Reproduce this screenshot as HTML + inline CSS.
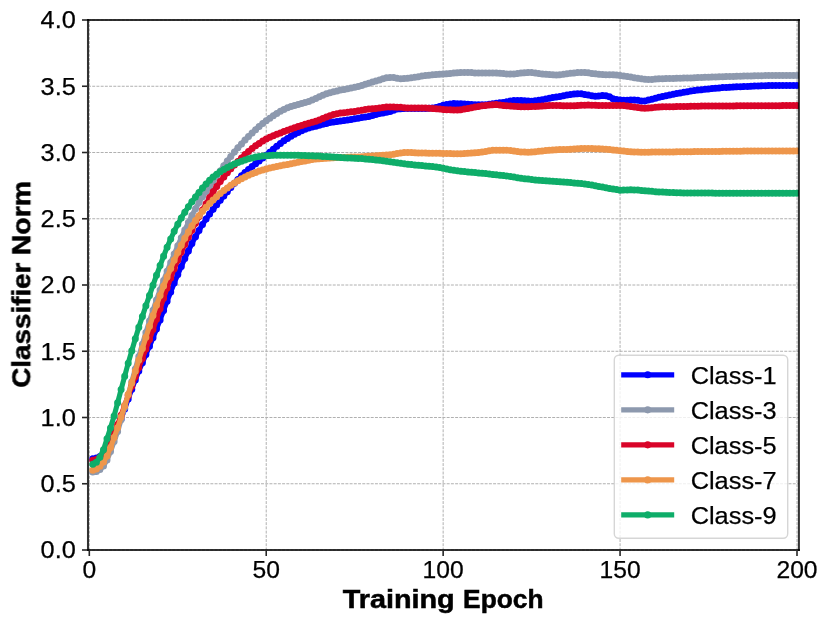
<!DOCTYPE html>
<html lang="en"><head><meta charset="utf-8"><title>Classifier Norm vs Training Epoch</title>
<style>html,body{margin:0;padding:0;background:#fff}body{width:830px;height:624px;overflow:hidden;font-family:"Liberation Sans",sans-serif}svg text{font-family:"Liberation Sans",sans-serif}</style></head>
<body>
<svg width="830" height="624" viewBox="0 0 830 624" style="display:block;will-change:transform">
<defs><filter id="nf" x="0" y="0" width="830" height="624" filterUnits="userSpaceOnUse" color-interpolation-filters="sRGB"><feOffset dx="0" dy="0"/></filter></defs>
<rect width="830" height="624" fill="#fff"/>
<g stroke="#b0b0b0" stroke-width="1.0" stroke-dasharray="2.95 1.27" fill="none">
<path d="M89.30 20V550"/>
<path d="M266.23 20V550"/>
<path d="M443.15 20V550"/>
<path d="M620.07 20V550"/>
<path d="M797.00 20V550"/>
<path d="M88 550.00H798.9"/>
<path d="M88 483.75H798.9"/>
<path d="M88 417.50H798.9"/>
<path d="M88 351.25H798.9"/>
<path d="M88 285.00H798.9"/>
<path d="M88 218.75H798.9"/>
<path d="M88 152.50H798.9"/>
<path d="M88 86.25H798.9"/>
<path d="M88 20.00H798.9"/>
</g>
<clipPath id="c"><rect x="88" y="20" width="710.9" height="530"/></clipPath>
<g clip-path="url(#c)" fill="none" stroke-linejoin="round">
<path d="M92.8 458.7 L96.4 457.9 L99.9 456.6 L103.5 453.8 L107.0 450.0 L110.5 444.6 L114.1 436.9 L117.6 428.2 L121.1 418.9 L124.7 409.0 L128.2 399.0 L131.8 389.2 L135.3 379.9 L138.8 371.1 L142.4 362.7 L145.9 354.5 L149.5 346.3 L153.0 337.8 L156.5 329.0 L160.1 319.9 L163.6 310.6 L167.1 301.2 L170.7 292.0 L174.2 283.1 L177.8 274.6 L181.3 266.4 L184.8 258.5 L188.4 250.9 L191.9 243.6 L195.5 236.8 L199.0 230.4 L202.5 224.5 L206.1 219.1 L209.6 214.0 L213.1 209.3 L216.7 204.7 L220.2 200.3 L223.8 196.0 L227.3 191.7 L230.8 187.4 L234.4 183.3 L237.9 179.4 L241.5 175.8 L245.0 172.5 L248.5 169.5 L252.1 166.6 L255.6 163.8 L259.1 160.9 L262.7 158.1 L266.2 155.2 L269.8 152.2 L273.3 149.2 L276.8 146.3 L280.4 143.4 L283.9 140.8 L287.5 138.4 L291.0 136.2 L294.5 134.2 L298.1 132.4 L301.6 130.7 L305.1 129.2 L308.7 128.0 L312.2 127.1 L315.8 126.3 L319.3 125.3 L322.8 124.3 L326.4 123.4 L329.9 122.6 L333.5 122.0 L337.0 121.5 L340.5 121.0 L344.1 120.5 L347.6 120.0 L351.1 119.4 L354.7 118.8 L358.2 118.2 L361.8 117.6 L365.3 117.1 L368.8 116.4 L372.4 115.5 L375.9 114.5 L379.5 113.6 L383.0 112.9 L386.5 112.2 L390.1 111.4 L393.6 110.2 L397.1 109.1 L400.7 108.7 L404.2 108.6 L407.8 108.5 L411.3 108.5 L414.8 108.5 L418.4 108.5 L421.9 108.5 L425.5 108.4 L429.0 108.2 L432.5 107.9 L436.1 107.5 L439.6 106.5 L443.2 105.2 L446.7 104.5 L450.2 103.9 L453.8 103.6 L457.3 103.7 L460.8 103.8 L464.4 104.0 L467.9 104.3 L471.5 104.6 L475.0 104.7 L478.5 104.8 L482.1 104.8 L485.6 104.8 L489.2 104.3 L492.7 103.7 L496.2 103.2 L499.8 102.8 L503.3 102.4 L506.8 101.8 L510.4 101.1 L513.9 100.6 L517.5 100.5 L521.0 100.5 L524.5 100.7 L528.1 101.1 L531.6 101.2 L535.2 100.8 L538.7 100.2 L542.2 99.7 L545.8 98.9 L549.3 98.2 L552.8 97.6 L556.4 97.0 L559.9 96.4 L563.5 95.8 L567.0 95.1 L570.5 94.6 L574.1 94.1 L577.6 93.7 L581.2 93.8 L584.7 94.4 L588.2 95.0 L591.8 95.8 L595.3 96.3 L598.8 95.9 L602.4 95.4 L605.9 95.8 L609.5 96.8 L613.0 98.7 L616.5 99.6 L620.1 100.0 L623.6 100.2 L627.2 100.2 L630.7 100.1 L634.2 100.0 L637.8 100.3 L641.3 100.9 L644.8 100.9 L648.4 100.1 L651.9 99.2 L655.5 98.3 L659.0 97.3 L662.5 96.5 L666.1 95.7 L669.6 95.0 L673.2 94.3 L676.7 93.6 L680.2 92.9 L683.8 92.3 L687.3 91.7 L690.8 91.1 L694.4 90.6 L697.9 90.1 L701.5 89.7 L705.0 89.3 L708.5 88.9 L712.1 88.6 L715.6 88.2 L719.2 87.9 L722.7 87.6 L726.2 87.4 L729.8 87.2 L733.3 87.0 L736.8 86.8 L740.4 86.7 L743.9 86.5 L747.5 86.4 L751.0 86.2 L754.5 86.0 L758.1 85.9 L761.6 85.8 L765.2 85.7 L768.7 85.6 L772.2 85.6 L775.8 85.5 L779.3 85.5 L782.8 85.5 L786.4 85.5 L789.9 85.5 L793.5 85.5 L797.0 85.5" stroke="#0000ff" stroke-width="5.1" stroke-linecap="round"/>
<path d="M92.8 458.7h0M96.4 457.9h0M99.9 456.6h0M103.5 453.8h0M107.0 450.0h0M110.5 444.6h0M114.1 436.9h0M117.6 428.2h0M121.1 418.9h0M124.7 409.0h0M128.2 399.0h0M131.8 389.2h0M135.3 379.9h0M138.8 371.1h0M142.4 362.7h0M145.9 354.5h0M149.5 346.3h0M153.0 337.8h0M156.5 329.0h0M160.1 319.9h0M163.6 310.6h0M167.1 301.2h0M170.7 292.0h0M174.2 283.1h0M177.8 274.6h0M181.3 266.4h0M184.8 258.5h0M188.4 250.9h0M191.9 243.6h0M195.5 236.8h0M199.0 230.4h0M202.5 224.5h0M206.1 219.1h0M209.6 214.0h0M213.1 209.3h0M216.7 204.7h0M220.2 200.3h0M223.8 196.0h0M227.3 191.7h0M230.8 187.4h0M234.4 183.3h0M237.9 179.4h0M241.5 175.8h0M245.0 172.5h0M248.5 169.5h0M252.1 166.6h0M255.6 163.8h0M259.1 160.9h0M262.7 158.1h0M266.2 155.2h0M269.8 152.2h0M273.3 149.2h0M276.8 146.3h0M280.4 143.4h0M283.9 140.8h0M287.5 138.4h0M291.0 136.2h0M294.5 134.2h0M298.1 132.4h0M301.6 130.7h0M305.1 129.2h0M308.7 128.0h0M312.2 127.1h0M315.8 126.3h0M319.3 125.3h0M322.8 124.3h0M326.4 123.4h0M329.9 122.6h0M333.5 122.0h0M337.0 121.5h0M340.5 121.0h0M344.1 120.5h0M347.6 120.0h0M351.1 119.4h0M354.7 118.8h0M358.2 118.2h0M361.8 117.6h0M365.3 117.1h0M368.8 116.4h0M372.4 115.5h0M375.9 114.5h0M379.5 113.6h0M383.0 112.9h0M386.5 112.2h0M390.1 111.4h0M393.6 110.2h0M397.1 109.1h0M400.7 108.7h0M404.2 108.6h0M407.8 108.5h0M411.3 108.5h0M414.8 108.5h0M418.4 108.5h0M421.9 108.5h0M425.5 108.4h0M429.0 108.2h0M432.5 107.9h0M436.1 107.5h0M439.6 106.5h0M443.2 105.2h0M446.7 104.5h0M450.2 103.9h0M453.8 103.6h0M457.3 103.7h0M460.8 103.8h0M464.4 104.0h0M467.9 104.3h0M471.5 104.6h0M475.0 104.7h0M478.5 104.8h0M482.1 104.8h0M485.6 104.8h0M489.2 104.3h0M492.7 103.7h0M496.2 103.2h0M499.8 102.8h0M503.3 102.4h0M506.8 101.8h0M510.4 101.1h0M513.9 100.6h0M517.5 100.5h0M521.0 100.5h0M524.5 100.7h0M528.1 101.1h0M531.6 101.2h0M535.2 100.8h0M538.7 100.2h0M542.2 99.7h0M545.8 98.9h0M549.3 98.2h0M552.8 97.6h0M556.4 97.0h0M559.9 96.4h0M563.5 95.8h0M567.0 95.1h0M570.5 94.6h0M574.1 94.1h0M577.6 93.7h0M581.2 93.8h0M584.7 94.4h0M588.2 95.0h0M591.8 95.8h0M595.3 96.3h0M598.8 95.9h0M602.4 95.4h0M605.9 95.8h0M609.5 96.8h0M613.0 98.7h0M616.5 99.6h0M620.1 100.0h0M623.6 100.2h0M627.2 100.2h0M630.7 100.1h0M634.2 100.0h0M637.8 100.3h0M641.3 100.9h0M644.8 100.9h0M648.4 100.1h0M651.9 99.2h0M655.5 98.3h0M659.0 97.3h0M662.5 96.5h0M666.1 95.7h0M669.6 95.0h0M673.2 94.3h0M676.7 93.6h0M680.2 92.9h0M683.8 92.3h0M687.3 91.7h0M690.8 91.1h0M694.4 90.6h0M697.9 90.1h0M701.5 89.7h0M705.0 89.3h0M708.5 88.9h0M712.1 88.6h0M715.6 88.2h0M719.2 87.9h0M722.7 87.6h0M726.2 87.4h0M729.8 87.2h0M733.3 87.0h0M736.8 86.8h0M740.4 86.7h0M743.9 86.5h0M747.5 86.4h0M751.0 86.2h0M754.5 86.0h0M758.1 85.9h0M761.6 85.8h0M765.2 85.7h0M768.7 85.6h0M772.2 85.6h0M775.8 85.5h0M779.3 85.5h0M782.8 85.5h0M786.4 85.5h0M789.9 85.5h0M793.5 85.5h0M797.0 85.5h0" stroke="#0000ff" stroke-width="7.0" stroke-linecap="round"/>
<path d="M92.8 472.1 L96.4 471.4 L99.9 469.5 L103.5 465.9 L107.0 460.0 L110.5 451.6 L114.1 441.6 L117.6 431.4 L121.1 419.8 L124.7 407.5 L128.2 394.7 L131.8 381.8 L135.3 369.0 L138.8 356.4 L142.4 344.2 L145.9 332.4 L149.5 321.1 L153.0 310.2 L156.5 299.9 L160.1 289.9 L163.6 280.4 L167.1 271.3 L170.7 262.6 L174.2 254.1 L177.8 245.8 L181.3 237.8 L184.8 230.1 L188.4 222.6 L191.9 215.5 L195.5 208.8 L199.0 202.5 L202.5 196.8 L206.1 191.4 L209.6 186.2 L213.1 181.1 L216.7 176.0 L220.2 170.9 L223.8 165.8 L227.3 161.0 L230.8 156.4 L234.4 152.0 L237.9 147.8 L241.5 143.9 L245.0 140.1 L248.5 136.5 L252.1 133.1 L255.6 129.8 L259.1 126.6 L262.7 123.6 L266.2 120.8 L269.8 118.2 L273.3 115.7 L276.8 113.4 L280.4 111.3 L283.9 109.4 L287.5 107.8 L291.0 106.5 L294.5 105.5 L298.1 104.5 L301.6 103.6 L305.1 102.6 L308.7 101.5 L312.2 100.0 L315.8 98.4 L319.3 96.8 L322.8 95.2 L326.4 93.8 L329.9 92.7 L333.5 91.7 L337.0 90.9 L340.5 90.1 L344.1 89.4 L347.6 88.7 L351.1 88.0 L354.7 87.2 L358.2 86.4 L361.8 85.4 L365.3 84.3 L368.8 83.2 L372.4 82.1 L375.9 81.0 L379.5 79.9 L383.0 78.7 L386.5 77.7 L390.1 77.5 L393.6 77.4 L397.1 78.2 L400.7 78.7 L404.2 78.5 L407.8 78.2 L411.3 77.8 L414.8 77.2 L418.4 76.7 L421.9 76.1 L425.5 75.6 L429.0 75.2 L432.5 74.8 L436.1 74.5 L439.6 74.3 L443.2 74.0 L446.7 73.7 L450.2 73.4 L453.8 73.1 L457.3 72.8 L460.8 72.6 L464.4 72.5 L467.9 72.4 L471.5 72.6 L475.0 72.9 L478.5 73.0 L482.1 73.0 L485.6 73.0 L489.2 73.0 L492.7 73.0 L496.2 73.1 L499.8 73.3 L503.3 73.5 L506.8 73.9 L510.4 74.1 L513.9 74.0 L517.5 73.4 L521.0 73.0 L524.5 72.7 L528.1 72.4 L531.6 72.5 L535.2 73.0 L538.7 73.4 L542.2 73.9 L545.8 74.3 L549.3 74.6 L552.8 74.8 L556.4 74.9 L559.9 74.7 L563.5 74.3 L567.0 73.7 L570.5 73.2 L574.1 72.9 L577.6 72.6 L581.2 72.5 L584.7 72.4 L588.2 72.8 L591.8 73.4 L595.3 73.8 L598.8 74.2 L602.4 74.5 L605.9 74.7 L609.5 74.7 L613.0 74.8 L616.5 75.0 L620.1 75.5 L623.6 76.0 L627.2 76.5 L630.7 77.1 L634.2 77.7 L637.8 78.3 L641.3 78.8 L644.8 79.3 L648.4 79.5 L651.9 79.4 L655.5 79.1 L659.0 78.8 L662.5 78.7 L666.1 78.6 L669.6 78.5 L673.2 78.4 L676.7 78.3 L680.2 78.2 L683.8 78.1 L687.3 78.0 L690.8 77.9 L694.4 77.8 L697.9 77.6 L701.5 77.5 L705.0 77.3 L708.5 77.2 L712.1 77.1 L715.6 76.9 L719.2 76.8 L722.7 76.7 L726.2 76.6 L729.8 76.5 L733.3 76.4 L736.8 76.3 L740.4 76.2 L743.9 76.1 L747.5 76.0 L751.0 75.9 L754.5 75.8 L758.1 75.8 L761.6 75.7 L765.2 75.6 L768.7 75.5 L772.2 75.5 L775.8 75.4 L779.3 75.4 L782.8 75.4 L786.4 75.4 L789.9 75.4 L793.5 75.4 L797.0 75.4" stroke="#8d99ae" stroke-width="5.1" stroke-linecap="round"/>
<path d="M92.8 472.1h0M96.4 471.4h0M99.9 469.5h0M103.5 465.9h0M107.0 460.0h0M110.5 451.6h0M114.1 441.6h0M117.6 431.4h0M121.1 419.8h0M124.7 407.5h0M128.2 394.7h0M131.8 381.8h0M135.3 369.0h0M138.8 356.4h0M142.4 344.2h0M145.9 332.4h0M149.5 321.1h0M153.0 310.2h0M156.5 299.9h0M160.1 289.9h0M163.6 280.4h0M167.1 271.3h0M170.7 262.6h0M174.2 254.1h0M177.8 245.8h0M181.3 237.8h0M184.8 230.1h0M188.4 222.6h0M191.9 215.5h0M195.5 208.8h0M199.0 202.5h0M202.5 196.8h0M206.1 191.4h0M209.6 186.2h0M213.1 181.1h0M216.7 176.0h0M220.2 170.9h0M223.8 165.8h0M227.3 161.0h0M230.8 156.4h0M234.4 152.0h0M237.9 147.8h0M241.5 143.9h0M245.0 140.1h0M248.5 136.5h0M252.1 133.1h0M255.6 129.8h0M259.1 126.6h0M262.7 123.6h0M266.2 120.8h0M269.8 118.2h0M273.3 115.7h0M276.8 113.4h0M280.4 111.3h0M283.9 109.4h0M287.5 107.8h0M291.0 106.5h0M294.5 105.5h0M298.1 104.5h0M301.6 103.6h0M305.1 102.6h0M308.7 101.5h0M312.2 100.0h0M315.8 98.4h0M319.3 96.8h0M322.8 95.2h0M326.4 93.8h0M329.9 92.7h0M333.5 91.7h0M337.0 90.9h0M340.5 90.1h0M344.1 89.4h0M347.6 88.7h0M351.1 88.0h0M354.7 87.2h0M358.2 86.4h0M361.8 85.4h0M365.3 84.3h0M368.8 83.2h0M372.4 82.1h0M375.9 81.0h0M379.5 79.9h0M383.0 78.7h0M386.5 77.7h0M390.1 77.5h0M393.6 77.4h0M397.1 78.2h0M400.7 78.7h0M404.2 78.5h0M407.8 78.2h0M411.3 77.8h0M414.8 77.2h0M418.4 76.7h0M421.9 76.1h0M425.5 75.6h0M429.0 75.2h0M432.5 74.8h0M436.1 74.5h0M439.6 74.3h0M443.2 74.0h0M446.7 73.7h0M450.2 73.4h0M453.8 73.1h0M457.3 72.8h0M460.8 72.6h0M464.4 72.5h0M467.9 72.4h0M471.5 72.6h0M475.0 72.9h0M478.5 73.0h0M482.1 73.0h0M485.6 73.0h0M489.2 73.0h0M492.7 73.0h0M496.2 73.1h0M499.8 73.3h0M503.3 73.5h0M506.8 73.9h0M510.4 74.1h0M513.9 74.0h0M517.5 73.4h0M521.0 73.0h0M524.5 72.7h0M528.1 72.4h0M531.6 72.5h0M535.2 73.0h0M538.7 73.4h0M542.2 73.9h0M545.8 74.3h0M549.3 74.6h0M552.8 74.8h0M556.4 74.9h0M559.9 74.7h0M563.5 74.3h0M567.0 73.7h0M570.5 73.2h0M574.1 72.9h0M577.6 72.6h0M581.2 72.5h0M584.7 72.4h0M588.2 72.8h0M591.8 73.4h0M595.3 73.8h0M598.8 74.2h0M602.4 74.5h0M605.9 74.7h0M609.5 74.7h0M613.0 74.8h0M616.5 75.0h0M620.1 75.5h0M623.6 76.0h0M627.2 76.5h0M630.7 77.1h0M634.2 77.7h0M637.8 78.3h0M641.3 78.8h0M644.8 79.3h0M648.4 79.5h0M651.9 79.4h0M655.5 79.1h0M659.0 78.8h0M662.5 78.7h0M666.1 78.6h0M669.6 78.5h0M673.2 78.4h0M676.7 78.3h0M680.2 78.2h0M683.8 78.1h0M687.3 78.0h0M690.8 77.9h0M694.4 77.8h0M697.9 77.6h0M701.5 77.5h0M705.0 77.3h0M708.5 77.2h0M712.1 77.1h0M715.6 76.9h0M719.2 76.8h0M722.7 76.7h0M726.2 76.6h0M729.8 76.5h0M733.3 76.4h0M736.8 76.3h0M740.4 76.2h0M743.9 76.1h0M747.5 76.0h0M751.0 75.9h0M754.5 75.8h0M758.1 75.8h0M761.6 75.7h0M765.2 75.6h0M768.7 75.5h0M772.2 75.5h0M775.8 75.4h0M779.3 75.4h0M782.8 75.4h0M786.4 75.4h0M789.9 75.4h0M793.5 75.4h0M797.0 75.4h0" stroke="#8d99ae" stroke-width="7.0" stroke-linecap="round"/>
<path d="M92.8 460.3 L96.4 459.5 L99.9 457.2 L103.5 453.6 L107.0 448.4 L110.5 441.6 L114.1 433.3 L117.6 424.6 L121.1 415.2 L124.7 405.5 L128.2 395.8 L131.8 386.2 L135.3 376.8 L138.8 367.6 L142.4 358.4 L145.9 349.1 L149.5 339.5 L153.0 329.6 L156.5 319.3 L160.1 308.8 L163.6 298.2 L167.1 287.9 L170.7 278.0 L174.2 268.7 L177.8 260.1 L181.3 252.0 L184.8 244.4 L188.4 237.2 L191.9 230.2 L195.5 223.3 L199.0 216.6 L202.5 210.0 L206.1 203.7 L209.6 197.6 L213.1 191.8 L216.7 186.5 L220.2 181.6 L223.8 177.0 L227.3 172.7 L230.8 168.8 L234.4 165.0 L237.9 161.4 L241.5 157.9 L245.0 154.6 L248.5 151.5 L252.1 148.5 L255.6 145.8 L259.1 143.4 L262.7 141.1 L266.2 139.1 L269.8 137.3 L273.3 135.7 L276.8 134.2 L280.4 132.9 L283.9 131.6 L287.5 130.3 L291.0 129.0 L294.5 127.8 L298.1 126.6 L301.6 125.4 L305.1 124.3 L308.7 123.2 L312.2 122.3 L315.8 121.3 L319.3 120.1 L322.8 118.5 L326.4 117.1 L329.9 115.8 L333.5 114.6 L337.0 113.7 L340.5 113.1 L344.1 112.7 L347.6 112.3 L351.1 111.8 L354.7 111.4 L358.2 110.8 L361.8 110.2 L365.3 109.6 L368.8 109.1 L372.4 108.8 L375.9 108.5 L379.5 108.1 L383.0 107.6 L386.5 107.1 L390.1 107.1 L393.6 107.1 L397.1 107.2 L400.7 107.3 L404.2 107.7 L407.8 107.9 L411.3 108.0 L414.8 108.0 L418.4 108.0 L421.9 108.1 L425.5 108.1 L429.0 108.3 L432.5 108.5 L436.1 108.7 L439.6 109.0 L443.2 109.4 L446.7 109.7 L450.2 109.8 L453.8 109.9 L457.3 110.0 L460.8 109.7 L464.4 109.1 L467.9 108.4 L471.5 107.7 L475.0 107.0 L478.5 106.4 L482.1 105.8 L485.6 105.4 L489.2 104.9 L492.7 104.7 L496.2 104.6 L499.8 105.0 L503.3 105.4 L506.8 105.7 L510.4 106.0 L513.9 106.2 L517.5 106.5 L521.0 106.7 L524.5 106.8 L528.1 106.7 L531.6 106.6 L535.2 106.4 L538.7 106.2 L542.2 106.0 L545.8 105.8 L549.3 105.6 L552.8 105.5 L556.4 105.5 L559.9 105.6 L563.5 105.7 L567.0 105.8 L570.5 105.8 L574.1 105.7 L577.6 105.5 L581.2 105.3 L584.7 105.2 L588.2 105.1 L591.8 105.2 L595.3 105.3 L598.8 105.4 L602.4 105.5 L605.9 105.5 L609.5 105.5 L613.0 105.5 L616.5 105.5 L620.1 105.5 L623.6 105.6 L627.2 106.0 L630.7 106.5 L634.2 107.0 L637.8 107.5 L641.3 108.1 L644.8 108.3 L648.4 108.1 L651.9 107.7 L655.5 107.3 L659.0 106.9 L662.5 106.8 L666.1 106.8 L669.6 106.7 L673.2 106.7 L676.7 106.6 L680.2 106.5 L683.8 106.5 L687.3 106.4 L690.8 106.3 L694.4 106.2 L697.9 106.2 L701.5 106.1 L705.0 106.1 L708.5 106.0 L712.1 106.0 L715.6 106.0 L719.2 105.9 L722.7 105.9 L726.2 105.9 L729.8 105.9 L733.3 105.9 L736.8 105.8 L740.4 105.8 L743.9 105.8 L747.5 105.8 L751.0 105.8 L754.5 105.8 L758.1 105.7 L761.6 105.7 L765.2 105.7 L768.7 105.7 L772.2 105.7 L775.8 105.7 L779.3 105.7 L782.8 105.6 L786.4 105.6 L789.9 105.6 L793.5 105.6 L797.0 105.6" stroke="#d90429" stroke-width="5.1" stroke-linecap="round"/>
<path d="M92.8 460.3h0M96.4 459.5h0M99.9 457.2h0M103.5 453.6h0M107.0 448.4h0M110.5 441.6h0M114.1 433.3h0M117.6 424.6h0M121.1 415.2h0M124.7 405.5h0M128.2 395.8h0M131.8 386.2h0M135.3 376.8h0M138.8 367.6h0M142.4 358.4h0M145.9 349.1h0M149.5 339.5h0M153.0 329.6h0M156.5 319.3h0M160.1 308.8h0M163.6 298.2h0M167.1 287.9h0M170.7 278.0h0M174.2 268.7h0M177.8 260.1h0M181.3 252.0h0M184.8 244.4h0M188.4 237.2h0M191.9 230.2h0M195.5 223.3h0M199.0 216.6h0M202.5 210.0h0M206.1 203.7h0M209.6 197.6h0M213.1 191.8h0M216.7 186.5h0M220.2 181.6h0M223.8 177.0h0M227.3 172.7h0M230.8 168.8h0M234.4 165.0h0M237.9 161.4h0M241.5 157.9h0M245.0 154.6h0M248.5 151.5h0M252.1 148.5h0M255.6 145.8h0M259.1 143.4h0M262.7 141.1h0M266.2 139.1h0M269.8 137.3h0M273.3 135.7h0M276.8 134.2h0M280.4 132.9h0M283.9 131.6h0M287.5 130.3h0M291.0 129.0h0M294.5 127.8h0M298.1 126.6h0M301.6 125.4h0M305.1 124.3h0M308.7 123.2h0M312.2 122.3h0M315.8 121.3h0M319.3 120.1h0M322.8 118.5h0M326.4 117.1h0M329.9 115.8h0M333.5 114.6h0M337.0 113.7h0M340.5 113.1h0M344.1 112.7h0M347.6 112.3h0M351.1 111.8h0M354.7 111.4h0M358.2 110.8h0M361.8 110.2h0M365.3 109.6h0M368.8 109.1h0M372.4 108.8h0M375.9 108.5h0M379.5 108.1h0M383.0 107.6h0M386.5 107.1h0M390.1 107.1h0M393.6 107.1h0M397.1 107.2h0M400.7 107.3h0M404.2 107.7h0M407.8 107.9h0M411.3 108.0h0M414.8 108.0h0M418.4 108.0h0M421.9 108.1h0M425.5 108.1h0M429.0 108.3h0M432.5 108.5h0M436.1 108.7h0M439.6 109.0h0M443.2 109.4h0M446.7 109.7h0M450.2 109.8h0M453.8 109.9h0M457.3 110.0h0M460.8 109.7h0M464.4 109.1h0M467.9 108.4h0M471.5 107.7h0M475.0 107.0h0M478.5 106.4h0M482.1 105.8h0M485.6 105.4h0M489.2 104.9h0M492.7 104.7h0M496.2 104.6h0M499.8 105.0h0M503.3 105.4h0M506.8 105.7h0M510.4 106.0h0M513.9 106.2h0M517.5 106.5h0M521.0 106.7h0M524.5 106.8h0M528.1 106.7h0M531.6 106.6h0M535.2 106.4h0M538.7 106.2h0M542.2 106.0h0M545.8 105.8h0M549.3 105.6h0M552.8 105.5h0M556.4 105.5h0M559.9 105.6h0M563.5 105.7h0M567.0 105.8h0M570.5 105.8h0M574.1 105.7h0M577.6 105.5h0M581.2 105.3h0M584.7 105.2h0M588.2 105.1h0M591.8 105.2h0M595.3 105.3h0M598.8 105.4h0M602.4 105.5h0M605.9 105.5h0M609.5 105.5h0M613.0 105.5h0M616.5 105.5h0M620.1 105.5h0M623.6 105.6h0M627.2 106.0h0M630.7 106.5h0M634.2 107.0h0M637.8 107.5h0M641.3 108.1h0M644.8 108.3h0M648.4 108.1h0M651.9 107.7h0M655.5 107.3h0M659.0 106.9h0M662.5 106.8h0M666.1 106.8h0M669.6 106.7h0M673.2 106.7h0M676.7 106.6h0M680.2 106.5h0M683.8 106.5h0M687.3 106.4h0M690.8 106.3h0M694.4 106.2h0M697.9 106.2h0M701.5 106.1h0M705.0 106.1h0M708.5 106.0h0M712.1 106.0h0M715.6 106.0h0M719.2 105.9h0M722.7 105.9h0M726.2 105.9h0M729.8 105.9h0M733.3 105.9h0M736.8 105.8h0M740.4 105.8h0M743.9 105.8h0M747.5 105.8h0M751.0 105.8h0M754.5 105.8h0M758.1 105.7h0M761.6 105.7h0M765.2 105.7h0M768.7 105.7h0M772.2 105.7h0M775.8 105.7h0M779.3 105.7h0M782.8 105.6h0M786.4 105.6h0M789.9 105.6h0M793.5 105.6h0M797.0 105.6h0" stroke="#d90429" stroke-width="7.0" stroke-linecap="round"/>
<path d="M92.8 470.3 L96.4 468.9 L99.9 466.3 L103.5 462.0 L107.0 455.9 L110.5 447.6 L114.1 437.5 L117.6 427.8 L121.1 417.0 L124.7 405.8 L128.2 394.4 L131.8 382.9 L135.3 371.3 L138.8 359.9 L142.4 348.5 L145.9 337.3 L149.5 326.3 L153.0 315.6 L156.5 305.3 L160.1 295.4 L163.6 286.0 L167.1 277.0 L170.7 268.4 L174.2 260.2 L177.8 252.5 L181.3 245.2 L184.8 238.3 L188.4 231.9 L191.9 226.0 L195.5 220.6 L199.0 215.7 L202.5 211.3 L206.1 207.3 L209.6 203.6 L213.1 200.1 L216.7 196.8 L220.2 193.6 L223.8 190.6 L227.3 187.9 L230.8 185.3 L234.4 183.0 L237.9 180.8 L241.5 178.8 L245.0 177.0 L248.5 175.3 L252.1 173.7 L255.6 172.4 L259.1 171.1 L262.7 170.0 L266.2 169.0 L269.8 168.1 L273.3 167.3 L276.8 166.5 L280.4 165.8 L283.9 165.0 L287.5 164.4 L291.0 163.7 L294.5 163.1 L298.1 162.3 L301.6 161.6 L305.1 160.9 L308.7 160.2 L312.2 159.6 L315.8 159.1 L319.3 158.7 L322.8 158.4 L326.4 158.2 L329.9 158.0 L333.5 157.8 L337.0 157.6 L340.5 157.5 L344.1 157.4 L347.6 157.2 L351.1 157.1 L354.7 157.0 L358.2 156.9 L361.8 156.7 L365.3 156.4 L368.8 156.2 L372.4 155.9 L375.9 155.7 L379.5 155.5 L383.0 155.3 L386.5 155.0 L390.1 154.7 L393.6 154.2 L397.1 153.6 L400.7 153.1 L404.2 152.6 L407.8 152.4 L411.3 152.5 L414.8 152.7 L418.4 152.9 L421.9 153.1 L425.5 153.1 L429.0 153.2 L432.5 153.2 L436.1 153.2 L439.6 153.3 L443.2 153.4 L446.7 153.5 L450.2 153.6 L453.8 153.7 L457.3 153.7 L460.8 153.7 L464.4 153.5 L467.9 153.3 L471.5 153.1 L475.0 152.8 L478.5 152.4 L482.1 151.9 L485.6 151.4 L489.2 150.8 L492.7 150.3 L496.2 150.3 L499.8 150.3 L503.3 150.3 L506.8 150.3 L510.4 150.5 L513.9 151.1 L517.5 151.6 L521.0 151.9 L524.5 152.1 L528.1 152.2 L531.6 152.1 L535.2 151.7 L538.7 151.3 L542.2 150.9 L545.8 150.6 L549.3 150.2 L552.8 150.0 L556.4 149.8 L559.9 149.6 L563.5 149.5 L567.0 149.4 L570.5 149.2 L574.1 149.0 L577.6 148.8 L581.2 148.6 L584.7 148.5 L588.2 148.5 L591.8 148.6 L595.3 148.7 L598.8 148.8 L602.4 148.9 L605.9 149.2 L609.5 149.5 L613.0 149.9 L616.5 150.3 L620.1 150.7 L623.6 151.1 L627.2 151.4 L630.7 151.7 L634.2 151.9 L637.8 152.1 L641.3 152.2 L644.8 152.2 L648.4 152.2 L651.9 152.1 L655.5 152.1 L659.0 152.0 L662.5 152.0 L666.1 151.9 L669.6 151.9 L673.2 151.9 L676.7 151.8 L680.2 151.8 L683.8 151.8 L687.3 151.7 L690.8 151.7 L694.4 151.6 L697.9 151.6 L701.5 151.6 L705.0 151.5 L708.5 151.5 L712.1 151.5 L715.6 151.4 L719.2 151.4 L722.7 151.3 L726.2 151.3 L729.8 151.3 L733.3 151.2 L736.8 151.2 L740.4 151.2 L743.9 151.1 L747.5 151.1 L751.0 151.1 L754.5 151.0 L758.1 151.0 L761.6 151.0 L765.2 151.0 L768.7 151.0 L772.2 151.0 L775.8 150.9 L779.3 150.9 L782.8 150.9 L786.4 150.9 L789.9 150.9 L793.5 150.9 L797.0 150.9" stroke="#ee964b" stroke-width="5.1" stroke-linecap="round"/>
<path d="M92.8 470.3h0M96.4 468.9h0M99.9 466.3h0M103.5 462.0h0M107.0 455.9h0M110.5 447.6h0M114.1 437.5h0M117.6 427.8h0M121.1 417.0h0M124.7 405.8h0M128.2 394.4h0M131.8 382.9h0M135.3 371.3h0M138.8 359.9h0M142.4 348.5h0M145.9 337.3h0M149.5 326.3h0M153.0 315.6h0M156.5 305.3h0M160.1 295.4h0M163.6 286.0h0M167.1 277.0h0M170.7 268.4h0M174.2 260.2h0M177.8 252.5h0M181.3 245.2h0M184.8 238.3h0M188.4 231.9h0M191.9 226.0h0M195.5 220.6h0M199.0 215.7h0M202.5 211.3h0M206.1 207.3h0M209.6 203.6h0M213.1 200.1h0M216.7 196.8h0M220.2 193.6h0M223.8 190.6h0M227.3 187.9h0M230.8 185.3h0M234.4 183.0h0M237.9 180.8h0M241.5 178.8h0M245.0 177.0h0M248.5 175.3h0M252.1 173.7h0M255.6 172.4h0M259.1 171.1h0M262.7 170.0h0M266.2 169.0h0M269.8 168.1h0M273.3 167.3h0M276.8 166.5h0M280.4 165.8h0M283.9 165.0h0M287.5 164.4h0M291.0 163.7h0M294.5 163.1h0M298.1 162.3h0M301.6 161.6h0M305.1 160.9h0M308.7 160.2h0M312.2 159.6h0M315.8 159.1h0M319.3 158.7h0M322.8 158.4h0M326.4 158.2h0M329.9 158.0h0M333.5 157.8h0M337.0 157.6h0M340.5 157.5h0M344.1 157.4h0M347.6 157.2h0M351.1 157.1h0M354.7 157.0h0M358.2 156.9h0M361.8 156.7h0M365.3 156.4h0M368.8 156.2h0M372.4 155.9h0M375.9 155.7h0M379.5 155.5h0M383.0 155.3h0M386.5 155.0h0M390.1 154.7h0M393.6 154.2h0M397.1 153.6h0M400.7 153.1h0M404.2 152.6h0M407.8 152.4h0M411.3 152.5h0M414.8 152.7h0M418.4 152.9h0M421.9 153.1h0M425.5 153.1h0M429.0 153.2h0M432.5 153.2h0M436.1 153.2h0M439.6 153.3h0M443.2 153.4h0M446.7 153.5h0M450.2 153.6h0M453.8 153.7h0M457.3 153.7h0M460.8 153.7h0M464.4 153.5h0M467.9 153.3h0M471.5 153.1h0M475.0 152.8h0M478.5 152.4h0M482.1 151.9h0M485.6 151.4h0M489.2 150.8h0M492.7 150.3h0M496.2 150.3h0M499.8 150.3h0M503.3 150.3h0M506.8 150.3h0M510.4 150.5h0M513.9 151.1h0M517.5 151.6h0M521.0 151.9h0M524.5 152.1h0M528.1 152.2h0M531.6 152.1h0M535.2 151.7h0M538.7 151.3h0M542.2 150.9h0M545.8 150.6h0M549.3 150.2h0M552.8 150.0h0M556.4 149.8h0M559.9 149.6h0M563.5 149.5h0M567.0 149.4h0M570.5 149.2h0M574.1 149.0h0M577.6 148.8h0M581.2 148.6h0M584.7 148.5h0M588.2 148.5h0M591.8 148.6h0M595.3 148.7h0M598.8 148.8h0M602.4 148.9h0M605.9 149.2h0M609.5 149.5h0M613.0 149.9h0M616.5 150.3h0M620.1 150.7h0M623.6 151.1h0M627.2 151.4h0M630.7 151.7h0M634.2 151.9h0M637.8 152.1h0M641.3 152.2h0M644.8 152.2h0M648.4 152.2h0M651.9 152.1h0M655.5 152.1h0M659.0 152.0h0M662.5 152.0h0M666.1 151.9h0M669.6 151.9h0M673.2 151.9h0M676.7 151.8h0M680.2 151.8h0M683.8 151.8h0M687.3 151.7h0M690.8 151.7h0M694.4 151.6h0M697.9 151.6h0M701.5 151.6h0M705.0 151.5h0M708.5 151.5h0M712.1 151.5h0M715.6 151.4h0M719.2 151.4h0M722.7 151.3h0M726.2 151.3h0M729.8 151.3h0M733.3 151.2h0M736.8 151.2h0M740.4 151.2h0M743.9 151.1h0M747.5 151.1h0M751.0 151.1h0M754.5 151.0h0M758.1 151.0h0M761.6 151.0h0M765.2 151.0h0M768.7 151.0h0M772.2 151.0h0M775.8 150.9h0M779.3 150.9h0M782.8 150.9h0M786.4 150.9h0M789.9 150.9h0M793.5 150.9h0M797.0 150.9h0" stroke="#ee964b" stroke-width="7.0" stroke-linecap="round"/>
<path d="M92.8 464.3 L96.4 462.3 L99.9 457.2 L103.5 449.7 L107.0 438.8 L110.5 427.9 L114.1 415.9 L117.6 402.8 L121.1 389.5 L124.7 376.2 L128.2 363.2 L131.8 350.7 L135.3 338.8 L138.8 327.3 L142.4 316.4 L145.9 305.7 L149.5 295.4 L153.0 285.2 L156.5 275.3 L160.1 265.6 L163.6 256.2 L167.1 247.2 L170.7 238.9 L174.2 231.2 L177.8 224.3 L181.3 217.9 L184.8 212.2 L188.4 206.8 L191.9 201.7 L195.5 196.9 L199.0 192.4 L202.5 188.1 L206.1 184.0 L209.6 180.3 L213.1 177.0 L216.7 174.2 L220.2 171.7 L223.8 169.5 L227.3 167.6 L230.8 165.8 L234.4 164.1 L237.9 162.6 L241.5 161.2 L245.0 159.9 L248.5 158.8 L252.1 157.9 L255.6 157.1 L259.1 156.5 L262.7 156.0 L266.2 155.7 L269.8 155.4 L273.3 155.3 L276.8 155.3 L280.4 155.2 L283.9 155.2 L287.5 155.3 L291.0 155.3 L294.5 155.3 L298.1 155.3 L301.6 155.4 L305.1 155.5 L308.7 155.7 L312.2 155.8 L315.8 156.0 L319.3 156.1 L322.8 156.4 L326.4 156.6 L329.9 156.8 L333.5 157.0 L337.0 157.3 L340.5 157.6 L344.1 157.8 L347.6 158.0 L351.1 158.1 L354.7 158.3 L358.2 158.4 L361.8 158.6 L365.3 158.9 L368.8 159.2 L372.4 159.6 L375.9 159.9 L379.5 160.3 L383.0 160.8 L386.5 161.3 L390.1 161.8 L393.6 162.3 L397.1 162.8 L400.7 163.3 L404.2 163.8 L407.8 164.2 L411.3 164.6 L414.8 164.9 L418.4 165.3 L421.9 165.6 L425.5 165.9 L429.0 166.3 L432.5 166.6 L436.1 167.0 L439.6 167.5 L443.2 168.3 L446.7 169.0 L450.2 169.7 L453.8 170.3 L457.3 170.8 L460.8 171.2 L464.4 171.6 L467.9 171.9 L471.5 172.2 L475.0 172.6 L478.5 172.9 L482.1 173.3 L485.6 173.6 L489.2 174.0 L492.7 174.4 L496.2 174.8 L499.8 175.2 L503.3 175.6 L506.8 176.0 L510.4 176.5 L513.9 177.1 L517.5 177.7 L521.0 178.2 L524.5 178.7 L528.1 179.1 L531.6 179.6 L535.2 179.9 L538.7 180.3 L542.2 180.6 L545.8 180.8 L549.3 181.1 L552.8 181.3 L556.4 181.6 L559.9 181.8 L563.5 182.1 L567.0 182.3 L570.5 182.6 L574.1 182.9 L577.6 183.2 L581.2 183.6 L584.7 183.9 L588.2 184.4 L591.8 185.0 L595.3 185.7 L598.8 186.4 L602.4 187.1 L605.9 187.7 L609.5 188.4 L613.0 189.1 L616.5 189.6 L620.1 190.2 L623.6 190.1 L627.2 189.9 L630.7 189.8 L634.2 189.9 L637.8 190.1 L641.3 190.4 L644.8 190.7 L648.4 191.0 L651.9 191.3 L655.5 191.7 L659.0 191.9 L662.5 192.1 L666.1 192.3 L669.6 192.5 L673.2 192.6 L676.7 192.7 L680.2 192.8 L683.8 192.9 L687.3 192.9 L690.8 193.0 L694.4 193.0 L697.9 193.0 L701.5 193.1 L705.0 193.1 L708.5 193.1 L712.1 193.1 L715.6 193.2 L719.2 193.2 L722.7 193.2 L726.2 193.2 L729.8 193.2 L733.3 193.2 L736.8 193.2 L740.4 193.2 L743.9 193.2 L747.5 193.2 L751.0 193.2 L754.5 193.2 L758.1 193.2 L761.6 193.2 L765.2 193.2 L768.7 193.2 L772.2 193.2 L775.8 193.2 L779.3 193.2 L782.8 193.2 L786.4 193.2 L789.9 193.2 L793.5 193.2 L797.0 193.2" stroke="#0ead69" stroke-width="5.1" stroke-linecap="round"/>
<path d="M92.8 464.3h0M96.4 462.3h0M99.9 457.2h0M103.5 449.7h0M107.0 438.8h0M110.5 427.9h0M114.1 415.9h0M117.6 402.8h0M121.1 389.5h0M124.7 376.2h0M128.2 363.2h0M131.8 350.7h0M135.3 338.8h0M138.8 327.3h0M142.4 316.4h0M145.9 305.7h0M149.5 295.4h0M153.0 285.2h0M156.5 275.3h0M160.1 265.6h0M163.6 256.2h0M167.1 247.2h0M170.7 238.9h0M174.2 231.2h0M177.8 224.3h0M181.3 217.9h0M184.8 212.2h0M188.4 206.8h0M191.9 201.7h0M195.5 196.9h0M199.0 192.4h0M202.5 188.1h0M206.1 184.0h0M209.6 180.3h0M213.1 177.0h0M216.7 174.2h0M220.2 171.7h0M223.8 169.5h0M227.3 167.6h0M230.8 165.8h0M234.4 164.1h0M237.9 162.6h0M241.5 161.2h0M245.0 159.9h0M248.5 158.8h0M252.1 157.9h0M255.6 157.1h0M259.1 156.5h0M262.7 156.0h0M266.2 155.7h0M269.8 155.4h0M273.3 155.3h0M276.8 155.3h0M280.4 155.2h0M283.9 155.2h0M287.5 155.3h0M291.0 155.3h0M294.5 155.3h0M298.1 155.3h0M301.6 155.4h0M305.1 155.5h0M308.7 155.7h0M312.2 155.8h0M315.8 156.0h0M319.3 156.1h0M322.8 156.4h0M326.4 156.6h0M329.9 156.8h0M333.5 157.0h0M337.0 157.3h0M340.5 157.6h0M344.1 157.8h0M347.6 158.0h0M351.1 158.1h0M354.7 158.3h0M358.2 158.4h0M361.8 158.6h0M365.3 158.9h0M368.8 159.2h0M372.4 159.6h0M375.9 159.9h0M379.5 160.3h0M383.0 160.8h0M386.5 161.3h0M390.1 161.8h0M393.6 162.3h0M397.1 162.8h0M400.7 163.3h0M404.2 163.8h0M407.8 164.2h0M411.3 164.6h0M414.8 164.9h0M418.4 165.3h0M421.9 165.6h0M425.5 165.9h0M429.0 166.3h0M432.5 166.6h0M436.1 167.0h0M439.6 167.5h0M443.2 168.3h0M446.7 169.0h0M450.2 169.7h0M453.8 170.3h0M457.3 170.8h0M460.8 171.2h0M464.4 171.6h0M467.9 171.9h0M471.5 172.2h0M475.0 172.6h0M478.5 172.9h0M482.1 173.3h0M485.6 173.6h0M489.2 174.0h0M492.7 174.4h0M496.2 174.8h0M499.8 175.2h0M503.3 175.6h0M506.8 176.0h0M510.4 176.5h0M513.9 177.1h0M517.5 177.7h0M521.0 178.2h0M524.5 178.7h0M528.1 179.1h0M531.6 179.6h0M535.2 179.9h0M538.7 180.3h0M542.2 180.6h0M545.8 180.8h0M549.3 181.1h0M552.8 181.3h0M556.4 181.6h0M559.9 181.8h0M563.5 182.1h0M567.0 182.3h0M570.5 182.6h0M574.1 182.9h0M577.6 183.2h0M581.2 183.6h0M584.7 183.9h0M588.2 184.4h0M591.8 185.0h0M595.3 185.7h0M598.8 186.4h0M602.4 187.1h0M605.9 187.7h0M609.5 188.4h0M613.0 189.1h0M616.5 189.6h0M620.1 190.2h0M623.6 190.1h0M627.2 189.9h0M630.7 189.8h0M634.2 189.9h0M637.8 190.1h0M641.3 190.4h0M644.8 190.7h0M648.4 191.0h0M651.9 191.3h0M655.5 191.7h0M659.0 191.9h0M662.5 192.1h0M666.1 192.3h0M669.6 192.5h0M673.2 192.6h0M676.7 192.7h0M680.2 192.8h0M683.8 192.9h0M687.3 192.9h0M690.8 193.0h0M694.4 193.0h0M697.9 193.0h0M701.5 193.1h0M705.0 193.1h0M708.5 193.1h0M712.1 193.1h0M715.6 193.2h0M719.2 193.2h0M722.7 193.2h0M726.2 193.2h0M729.8 193.2h0M733.3 193.2h0M736.8 193.2h0M740.4 193.2h0M743.9 193.2h0M747.5 193.2h0M751.0 193.2h0M754.5 193.2h0M758.1 193.2h0M761.6 193.2h0M765.2 193.2h0M768.7 193.2h0M772.2 193.2h0M775.8 193.2h0M779.3 193.2h0M782.8 193.2h0M786.4 193.2h0M789.9 193.2h0M793.5 193.2h0M797.0 193.2h0" stroke="#0ead69" stroke-width="7.0" stroke-linecap="round"/>
</g>
<g stroke="#000" stroke-opacity="0.8" stroke-width="2.05" stroke-linecap="square" fill="none">
<path d="M88 20V550"/><path d="M798.9 20V550"/><path d="M88 550H798.9"/><path d="M88 20H798.9"/>
</g>
<g stroke="#262626" stroke-width="1.6" fill="none">
<path d="M89.30 551V556"/>
<path d="M266.23 551V556"/>
<path d="M443.15 551V556"/>
<path d="M620.07 551V556"/>
<path d="M797.00 551V556"/>
<path d="M87 550.00H82"/>
<path d="M87 483.75H82"/>
<path d="M87 417.50H82"/>
<path d="M87 351.25H82"/>
<path d="M87 285.00H82"/>
<path d="M87 218.75H82"/>
<path d="M87 152.50H82"/>
<path d="M87 86.25H82"/>
<path d="M87 20.00H82"/>
</g>
<g filter="url(#nf)" font-family="Liberation Sans, sans-serif" font-size="23.6" fill="#000" stroke="#000" stroke-width="0.25">
<text x="89.30" y="577.6" text-anchor="middle" textLength="13.71" lengthAdjust="spacingAndGlyphs">0</text>
<text x="266.23" y="577.6" text-anchor="middle" textLength="27.42" lengthAdjust="spacingAndGlyphs">50</text>
<text x="443.15" y="577.6" text-anchor="middle" textLength="41.14" lengthAdjust="spacingAndGlyphs">100</text>
<text x="620.07" y="577.6" text-anchor="middle" textLength="41.14" lengthAdjust="spacingAndGlyphs">150</text>
<text x="797.00" y="577.6" text-anchor="middle" textLength="41.14" lengthAdjust="spacingAndGlyphs">200</text>
<text x="75.8" y="558.30" text-anchor="end" textLength="35.26" lengthAdjust="spacingAndGlyphs">0.0</text>
<text x="75.8" y="492.05" text-anchor="end" textLength="35.26" lengthAdjust="spacingAndGlyphs">0.5</text>
<text x="75.8" y="425.80" text-anchor="end" textLength="35.26" lengthAdjust="spacingAndGlyphs">1.0</text>
<text x="75.8" y="359.55" text-anchor="end" textLength="35.26" lengthAdjust="spacingAndGlyphs">1.5</text>
<text x="75.8" y="293.30" text-anchor="end" textLength="35.26" lengthAdjust="spacingAndGlyphs">2.0</text>
<text x="75.8" y="227.05" text-anchor="end" textLength="35.26" lengthAdjust="spacingAndGlyphs">2.5</text>
<text x="75.8" y="160.80" text-anchor="end" textLength="35.26" lengthAdjust="spacingAndGlyphs">3.0</text>
<text x="75.8" y="94.55" text-anchor="end" textLength="35.26" lengthAdjust="spacingAndGlyphs">3.5</text>
<text x="75.8" y="28.30" text-anchor="end" textLength="35.26" lengthAdjust="spacingAndGlyphs">4.0</text>
</g>
<g filter="url(#nf)" font-family="Liberation Sans, sans-serif" font-weight="bold" font-size="25.0" fill="#000" stroke="#000" stroke-width="0.5">
<text x="342.7" y="607.8" textLength="112.0" lengthAdjust="spacingAndGlyphs">Training</text>
<text x="463.1" y="607.8" textLength="80.4" lengthAdjust="spacingAndGlyphs">Epoch</text>
<g transform="translate(30.3 285) rotate(-90)"><text x="-102.8" y="0" textLength="125.2" lengthAdjust="spacingAndGlyphs">Classifier</text><text x="29.85" y="0" textLength="74.2" lengthAdjust="spacingAndGlyphs">Norm</text></g>
</g>
<rect x="614.3" y="355.3" width="173.4" height="183" rx="4.5" ry="4.5" fill="#fff" fill-opacity="0.8" stroke="#ccc" stroke-opacity="0.8" stroke-width="1.4"/>
<path d="M621.2 374.80H674.2" stroke="#0000ff" stroke-width="5.2" fill="none"/>
<circle cx="647.7" cy="374.80" r="3.55" fill="#0000ff"/>
<path d="M621.2 409.83H674.2" stroke="#8d99ae" stroke-width="5.2" fill="none"/>
<circle cx="647.7" cy="409.83" r="3.55" fill="#8d99ae"/>
<path d="M621.2 444.86H674.2" stroke="#d90429" stroke-width="5.2" fill="none"/>
<circle cx="647.7" cy="444.86" r="3.55" fill="#d90429"/>
<path d="M621.2 479.89H674.2" stroke="#ee964b" stroke-width="5.2" fill="none"/>
<circle cx="647.7" cy="479.89" r="3.55" fill="#ee964b"/>
<path d="M621.2 514.92H674.2" stroke="#0ead69" stroke-width="5.2" fill="none"/>
<circle cx="647.7" cy="514.92" r="3.55" fill="#0ead69"/>
<g filter="url(#nf)" font-family="Liberation Sans, sans-serif" font-size="24.8" fill="#000" stroke="#000" stroke-width="0.25">
<text x="690.7" y="383.70" textLength="85.9" lengthAdjust="spacingAndGlyphs">Class-1</text>
<text x="690.7" y="418.73" textLength="85.9" lengthAdjust="spacingAndGlyphs">Class-3</text>
<text x="690.7" y="453.76" textLength="85.9" lengthAdjust="spacingAndGlyphs">Class-5</text>
<text x="690.7" y="488.79" textLength="85.9" lengthAdjust="spacingAndGlyphs">Class-7</text>
<text x="690.7" y="523.82" textLength="85.9" lengthAdjust="spacingAndGlyphs">Class-9</text>
</g>
</svg>
</body></html>
